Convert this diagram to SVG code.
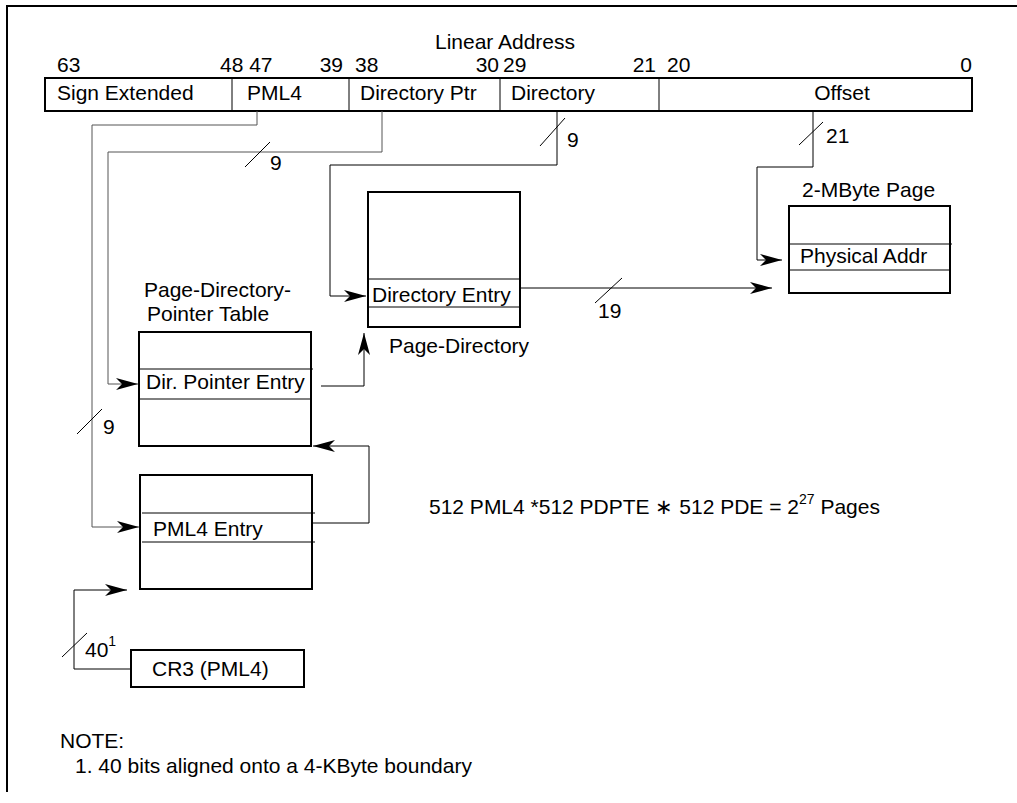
<svg xmlns="http://www.w3.org/2000/svg" width="1017" height="803" viewBox="0 0 1017 803">
<style>
text{font-family:"Liberation Sans",Arial,Helvetica,sans-serif;font-size:21px;fill:#000}
.box{fill:#fff;stroke:#000;stroke-width:2}
.frame{fill:none;stroke:#000;stroke-width:2}
.sep{fill:none;stroke:#000;stroke-width:1}
.conn{fill:none;stroke:#000;stroke-width:1}
.gray{stroke:#555}
.sup{font-size:14px}
</style>
<defs>
<marker id="ah" viewBox="0 0 22 12" refX="22" refY="6" markerWidth="22" markerHeight="12" markerUnits="userSpaceOnUse" orient="auto">
<path d="M0,0 L22,6 L0,12 L6,6 z" fill="#000"/>
</marker>
</defs>
<path class="frame" d="M1017,6 H7 V792"/>

<g id="linear-address">
<text x="505" y="49" text-anchor="middle">Linear Address</text>
<text x="57" y="72">63</text>
<text x="220" y="72">48 47</text>
<text x="343" y="72" text-anchor="end">39</text>
<text x="355" y="72">38</text>
<text x="499" y="72" text-anchor="end">30</text>
<text x="503" y="72">29</text>
<text x="656" y="72" text-anchor="end">21</text>
<text x="667" y="72">20</text>
<text x="972" y="72" text-anchor="end">0</text>
<rect class="box" x="45" y="78" width="927" height="33"/>
<path class="sep" d="M232,78 V111 M349,78 V111 M500,78 V111 M659,78 V111"/>
<text x="57" y="100">Sign Extended</text>
<text x="247" y="100">PML4</text>
<text x="360" y="100">Directory Ptr</text>
<text x="511" y="100">Directory</text>
<text x="842" y="100" text-anchor="middle">Offset</text>
</g>

<g id="connectors">
<path class="conn gray" d="M257,111 V125 H92 V527 H139" marker-end="url(#ah)"/>
<path class="conn gray" d="M382,111 V152 H108 V384 H138" marker-end="url(#ah)"/>
<path class="conn" d="M557,111 V165 H330 V296 H366" marker-end="url(#ah)"/>
<path class="conn" d="M813,111 V167 H757 V260 H782" marker-end="url(#ah)"/>
<path class="conn" d="M521,288 H772" marker-end="url(#ah)"/>
<path class="conn" d="M321,386 H364 V333" marker-end="url(#ah)"/>
<path class="conn" d="M312,523 H369 V446 H313" marker-end="url(#ah)"/>
<path class="conn" d="M131,669 H74 V590 H127" marker-end="url(#ah)"/>
<path class="conn" d="M245,167 L270,142 M77,434 L102,409 M540,146 L565,118 M799,145 L823,122 M595,303 L622,278 M62,657 L87,633"/>
<text x="270" y="170">9</text>
<text x="103" y="434">9</text>
<text x="567" y="147">9</text>
<text x="826" y="143">21</text>
<text x="598" y="318">19</text>
<text x="85" y="657">40<tspan class="sup" dy="-11">1</tspan></text>
</g>

<g id="pml4-table">
<rect class="box" x="140" y="475" width="172" height="114"/>
<path class="sep" d="M142,513 H315 M142,542 H315"/>
<text x="153" y="536">PML4 Entry</text>
</g>

<g id="pdpt">
<text x="144" y="297">Page-Directory-</text>
<text x="147" y="321">Pointer Table</text>
<rect class="box" x="139" y="332" width="172" height="114"/>
<path class="sep" d="M139,369 H313 M139,399 H311"/>
<text x="146" y="389">Dir. Pointer Entry</text>
</g>

<g id="page-directory">
<rect class="box" x="368" y="192" width="152" height="135"/>
<path class="sep" d="M368,279 H520 M368,307 H520"/>
<text x="372" y="302">Directory Entry</text>
<text x="389" y="353">Page-Directory</text>
</g>

<g id="page-2mb">
<text x="802" y="197">2-MByte Page</text>
<rect class="box" x="789" y="206" width="161" height="87"/>
<path class="sep" d="M789,244 H952 M789,270 H950"/>
<text x="800" y="263">Physical Addr</text>
</g>

<g id="cr3">
<rect class="box" x="131" y="650" width="173" height="37"/>
<text x="152" y="676">CR3 (PML4)</text>
</g>

<g id="formula">
<text x="429" y="514">512 PML4 *512 PDPTE ∗ 512 PDE = 2<tspan class="sup" dy="-10">27</tspan><tspan dy="10"> Pages</tspan></text>
</g>

<g id="note">
<text x="60" y="748">NOTE:</text>
<text x="75" y="773">1. 40 bits aligned onto a 4-KByte boundary</text>
</g>
</svg>
